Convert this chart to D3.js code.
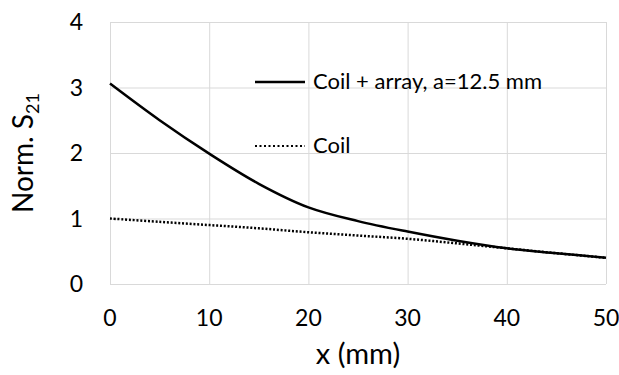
<!DOCTYPE html>
<html>
<head>
<meta charset="utf-8">
<script src="https://cdn.jsdelivr.net/npm/d3@7"></script>
<style>
  body { margin: 0; background: #fff; }
  text { font-family: Lato, "Open Sans", sans-serif; fill: #000; }
  .grid line { stroke: #d9d9d9; stroke-width: 1; }
  .grid .domain { display: none; }
</style>
</head>
<body>
<div id="chart"></div>
<script>
// data
const xValues = [0, 5, 10, 15, 20, 25, 30, 35, 40, 45, 50];
const coilArray = [3.06, 2.50, 1.99, 1.53, 1.17, 0.96, 0.80, 0.66, 0.545, 0.47, 0.40];
const coilOnly = [1.0, 0.95, 0.90, 0.85, 0.79, 0.74, 0.69, 0.62, 0.545, 0.47, 0.40];
const xTicks = [0, 10, 20, 30, 40, 50];
const yTicks = [0, 1, 2, 3, 4];
const seriesNames = ["Coil + array, a=12.5 mm", "Coil"];

const W = 619, H = 375;
const margin = { top: 22, right: 13, bottom: 91, left: 110 };
const width = W - margin.left - margin.right;
const height = H - margin.top - margin.bottom;

const x = d3.scaleLinear().domain([0, 50]).range([0, width]);
const y = d3.scaleLinear().domain([0, 4]).range([height, 0]);

const svg = d3.select("#chart")
    .append("svg")
    .attr("width", W)
    .attr("height", H)
    .append("g")
    .attr("transform", "translate(" + margin.left + "," + margin.top + ")");

// gridlines
svg.append("g")
    .attr("class", "grid")
    .attr("transform", "translate(0," + height + ")")
    .call(d3.axisBottom(x).tickValues(xTicks).tickSize(-height).tickFormat(""));

svg.append("g")
    .attr("class", "grid")
    .call(d3.axisLeft(y).tickValues(yTicks).tickSize(-width).tickFormat(""));

// tick labels
svg.append("g")
    .selectAll("text")
    .data(xTicks)
    .join("text")
    .attr("x", d => x(d))
    .attr("y", height + 42)
    .style("text-anchor", "middle")
    .style("font-size", "23px")
    .text(d => d);

svg.append("g")
    .selectAll("text")
    .data(yTicks)
    .join("text")
    .attr("x", -27)
    .attr("y", d => y(d) + 8)
    .style("text-anchor", "end")
    .style("font-size", "23px")
    .text(d => d);

// lines
const line = d3.line()
    .x((d, i) => x(xValues[i]))
    .y(d => y(d))
    .curve(d3.curveCatmullRom);

svg.append("path")
    .datum(coilOnly)
    .attr("fill", "none")
    .attr("stroke", "#000")
    .attr("stroke-width", 2.5)
    .attr("stroke-dasharray", "2 1.8")
    .attr("d", line);

svg.append("path")
    .datum(coilArray)
    .attr("fill", "none")
    .attr("stroke", "#000")
    .attr("stroke-width", 2.5)
    .attr("d", line);

// legend
const legend = svg.append("g").attr("transform", "translate(145,60)");
legend.append("line")
    .attr("x1", 0).attr("x2", 50).attr("y1", 0).attr("y2", 0)
    .attr("stroke", "#000").attr("stroke-width", 2.5);
legend.append("text")
    .attr("x", 58).attr("y", 7)
    .style("font-size", "22px")
    .text(seriesNames[0]);
legend.append("line")
    .attr("x1", 0).attr("x2", 50).attr("y1", 64).attr("y2", 64)
    .attr("stroke", "#000").attr("stroke-width", 2)
    .attr("stroke-dasharray", "2 2.5");
legend.append("text")
    .attr("x", 58).attr("y", 71)
    .style("font-size", "22px")
    .text(seriesNames[1]);

// axis titles
svg.append("text")
    .attr("x", width / 2)
    .attr("y", height + 80)
    .style("text-anchor", "middle")
    .style("font-size", "29px")
    .text("x (mm)");

const yTitle = svg.append("text")
    .attr("transform", "rotate(-90)")
    .attr("x", -(height / 2) + 0)
    .attr("y", -77)
    .style("text-anchor", "middle")
    .style("font-size", "28px");
yTitle.append("tspan").text("Norm. S");
yTitle.append("tspan")
    .attr("dy", 6)
    .style("font-size", "18px")
    .text("21");
</script>
</body>
</html>
